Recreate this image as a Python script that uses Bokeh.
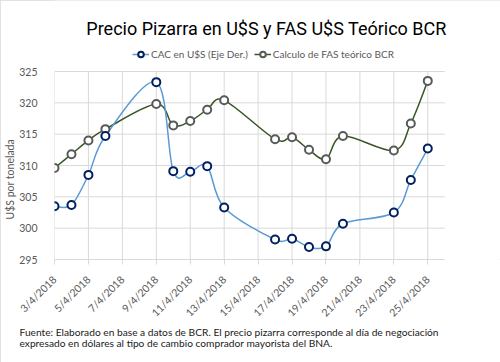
import math
import numpy as np
import pandas as pd
from bokeh.plotting import figure
from bokeh.models import (ColumnDataSource, FixedTicker, Label, Legend, LegendItem, Range1d, Title)
from bokeh.embed import file_html
from bokeh.resources import INLINE

# ---- data -------------------------------------------------------------
fechas = ["2018-04-03", "2018-04-04", "2018-04-05", "2018-04-06", "2018-04-09",
          "2018-04-10", "2018-04-11", "2018-04-12", "2018-04-13", "2018-04-16",
          "2018-04-17", "2018-04-18", "2018-04-19", "2018-04-20", "2018-04-23",
          "2018-04-24", "2018-04-25"]
cac_usd = [303.5, 303.7, 308.5, 314.7, 323.3, 309.1, 309.0, 309.9, 303.3, 298.2,
           298.3, 297.0, 297.1, 300.7, 302.5, 307.7, 312.7]
fas_teorico = [309.6, 311.8, 314.0, 315.8, 319.8, 316.4, 317.1, 318.9, 320.4, 314.2,
               314.5, 312.5, 311.0, 314.7, 312.4, 316.7, 323.5]
tick_fechas = ["2018-04-03", "2018-04-05", "2018-04-07", "2018-04-09", "2018-04-11",
               "2018-04-13", "2018-04-15", "2018-04-17", "2018-04-19", "2018-04-21",
               "2018-04-23", "2018-04-25"]
tick_labels = ["3/4/2018", "5/4/2018", "7/4/2018", "9/4/2018", "11/4/2018",
               "13/4/2018", "15/4/2018", "17/4/2018", "19/4/2018", "21/4/2018",
               "23/4/2018", "25/4/2018"]
y_ticks = [295, 300, 305, 310, 315, 320, 325]
serie_cac = "CAC en U$S (Eje Der.)"
serie_fas = "Calculo de FAS teórico BCR"
titulo = "Precio Pizarra en U$S y FAS U$S Teórico BCR"
eje_y = "U$S por tonelada"
fuente_1 = "Fuente: Elaborado en base a datos de BCR. El precio pizarra corresponde al día de negociación"
fuente_2 = "expresado en dólares al tipo de cambio comprador mayorista del BNA."


def to_ms(ds):
    return (pd.to_datetime(ds).astype("int64") // 10**6).astype(float).to_numpy()


x_ms = to_ms(fechas)
ticks_ms = to_ms(tick_fechas)
x_start = to_ms(["2018-04-03"])[0]
x_end = to_ms(["2018-04-26"])[0]


def smooth_source(xs, ys):
    """Bezier control points for a smoothed line through the points."""
    x = np.asarray(xs, float)
    y = np.asarray(ys, float)
    xp = np.concatenate([[x[0]], x, [x[-1]]])
    yp = np.concatenate([[y[0]], y, [y[-1]]])
    n = len(x)
    i = np.arange(n - 1)
    cx0 = x[i] + (xp[i + 2] - xp[i]) / 6.0
    cy0 = y[i] + (yp[i + 2] - yp[i]) / 6.0
    cx1 = x[i + 1] - (xp[i + 3] - xp[i + 1]) / 6.0
    cy1 = y[i + 1] - (yp[i + 3] - yp[i + 1]) / 6.0
    return ColumnDataSource(dict(x0=x[:-1], y0=y[:-1], x1=x[1:], y1=y[1:],
                                 cx0=cx0, cy0=cy0, cx1=cx1, cy1=cy1))


FONT = "Lato"
TITLE_FONT = "Roboto"
AX_COLOR = "#595959"
GRID = "#d9d9d9"

# layout (pixels): plot area x 52..444, y 71..259; frame reaches top & right edges
W, H = 500, 362
LEFT, BOTTOM = 52, 103
AREA_TOP, AREA_RIGHT = 71, 444
frame_h = H - BOTTOM
frame_w = W - LEFT
y_lo, y_hi = y_ticks[0], y_ticks[-1]
y_top = y_lo + (y_hi - y_lo) * frame_h / (frame_h - AREA_TOP)
x_right = x_start + (x_end - x_start) * frame_w / (AREA_RIGHT - LEFT)

p = figure(width=W, height=H, x_axis_type="datetime",
           x_range=Range1d(x_start, x_right), y_range=Range1d(y_lo, y_top),
           output_backend="svg", toolbar_location=None,
           min_border_left=LEFT, min_border_right=0,
           min_border_top=0, min_border_bottom=BOTTOM)
p.outline_line_color = None
p.background_fill_color = "white"
p.border_fill_color = "white"
p.styles = {"outline": "1px solid #d9d9d9", "outline-offset": "-1px"}

# grids (drawn only over the plot area)
p.xgrid.visible = False
p.ygrid.visible = False
p.segment(x0=list(ticks_ms), y0=[y_lo] * len(ticks_ms), x1=list(ticks_ms),
          y1=[y_hi] * len(ticks_ms), line_color=GRID, line_width=1)
p.segment(x0=[x_start] * len(y_ticks), y0=y_ticks, x1=[x_end] * len(y_ticks),
          y1=y_ticks, line_color=GRID, line_width=1)

# x axis
xa = p.xaxis[0]
xa.bounds = (x_start, x_end)
xa.ticker = FixedTicker(ticks=list(ticks_ms))
xa.major_label_overrides = {float(t): lab for t, lab in zip(ticks_ms, tick_labels)}
xa.major_label_orientation = math.pi / 4
xa.axis_line_color = GRID
xa.major_tick_line_color = GRID
xa.major_tick_out = 5
xa.major_tick_in = 0
xa.minor_tick_line_color = None
xa.major_label_text_font = FONT
xa.major_label_text_font_size = "10.5px"
xa.major_label_text_color = AX_COLOR
xa.major_label_standoff = 13

# y axis
ya = p.yaxis[0]
ya.ticker = FixedTicker(ticks=y_ticks)
ya.axis_line_color = None
ya.major_tick_line_color = None
ya.minor_tick_line_color = None
ya.major_label_text_font = FONT
ya.major_label_text_font_size = "10.5px"
ya.major_label_text_color = AX_COLOR
ya.major_label_standoff = 11

p.add_layout(Title(text=eje_y, align="left", offset=40, standoff=2,
                   text_font=FONT, text_font_size="10.5px", text_font_style="normal",
                   text_color=AX_COLOR), "left")

# series
src_cac = ColumnDataSource(dict(x=x_ms, y=cac_usd))
src_fas = ColumnDataSource(dict(x=x_ms, y=fas_teorico))

r_fas_line = p.bezier(x0="x0", y0="y0", x1="x1", y1="y1", cx0="cx0", cy0="cy0",
                      cx1="cx1", cy1="cy1", source=smooth_source(x_ms, fas_teorico),
                      line_color="#375623", line_width=1.5)
r_cac_line = p.bezier(x0="x0", y0="y0", x1="x1", y1="y1", cx0="cx0", cy0="cy0",
                      cx1="cx1", cy1="cy1", source=smooth_source(x_ms, cac_usd),
                      line_color="#5b9bd5", line_width=1.5)
r_fas_pts = p.scatter("x", "y", source=src_fas, size=8, marker="circle",
                      fill_color="white", line_color="#595959", line_width=2)
r_cac_pts = p.scatter("x", "y", source=src_cac, size=8, marker="circle",
                      fill_color="white", line_color="#002060", line_width=2)

legend = Legend(items=[LegendItem(label=serie_cac, renderers=[r_cac_line, r_cac_pts]),
                       LegendItem(label=serie_fas, renderers=[r_fas_line, r_fas_pts])],
                orientation="horizontal", location=(130 - LEFT, frame_h - 61),
                padding=0, margin=0, spacing=6,
                glyph_width=17, glyph_height=14, label_height=14,
                label_standoff=2,
                label_text_font=FONT, label_text_font_size="10px",
                label_text_color=AX_COLOR,
                border_line_color=None, background_fill_alpha=0)
p.add_layout(legend, "center")

# title inside the (white) upper part of the frame
p.add_layout(Label(x=264 - LEFT, y=frame_h - 27.5, x_units="screen", y_units="screen",
                   text=titulo, text_font=TITLE_FONT, text_font_size="18px",
                   text_color="#000000", text_align="center",
                   text_baseline="alphabetic"))

# footer
for txt in (fuente_1, fuente_2):
    p.add_layout(Title(text=txt, align="left", offset=-35, standoff=-3,
                       text_font=FONT, text_font_size="10.2px",
                       text_font_style="normal", text_color="#1a1a1a"), "below")

open("out.html", "w").write(file_html(p, INLINE))
